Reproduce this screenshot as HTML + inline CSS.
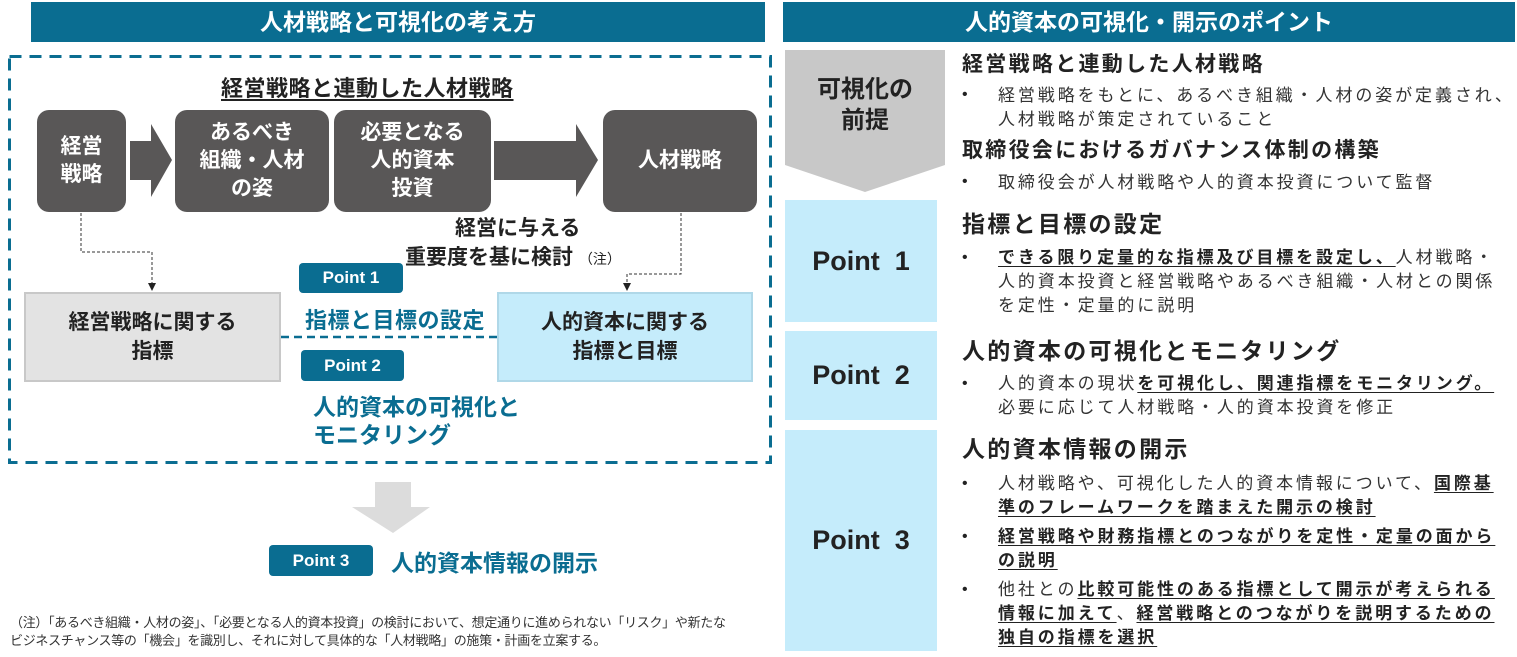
<!DOCTYPE html>
<html><head><meta charset="utf-8"><style>
*{margin:0;padding:0;box-sizing:border-box}
body{width:1517px;height:657px;background:#fff;position:relative;overflow:hidden;font-family:"Liberation Sans","Noto Sans CJK JP",sans-serif;color:#222}
.a{position:absolute;white-space:nowrap}
.hd{background:#0a6d91;color:#fff;font-weight:bold;font-size:23px;text-align:center;line-height:40px;height:40px;top:2px}
.dk{background:#595757;color:#fff;font-weight:bold;font-size:21px;border-radius:12px;display:flex;align-items:center;justify-content:center;text-align:center;line-height:28px;top:110px;height:102px}
.badge{background:#0a6d91;color:#fff;font-weight:bold;font-size:17px;border-radius:4px;text-align:center}
.teal{color:#0a6d91;font-weight:bold;font-size:22px}
.bx{display:flex;align-items:center;justify-content:center;text-align:center;font-weight:bold;font-size:21px;line-height:29px;border:2px solid #c8c8c8}
.pt{background:#c5ecfb;font-weight:bold;font-size:27px;display:flex;align-items:center;justify-content:center;left:785px;width:152px}
.h2{font-weight:bold;font-size:21px;letter-spacing:2.3px;left:962px}
.b{font-size:17px;letter-spacing:2.9px;left:998px;color:#333}
.dot{font-size:16px;left:962px}
u{text-decoration:underline;text-underline-offset:3px;font-weight:bold;color:#222}
</style></head><body>
<div class="a hd" style="left:31px;width:734px">人材戦略と可視化の考え方</div>
<div class="a hd" style="left:783px;width:732px">人的資本の可視化・開示のポイント</div>

<svg class="a" style="left:0;top:0" width="780" height="657">
<rect x="9.5" y="56.5" width="761" height="406" fill="none" stroke="#0a6d91" stroke-width="3" stroke-dasharray="12 8"/>
<polygon points="130,141 151,141 151,124 172,160 151,197 151,180 130,180" fill="#595757"/>
<polygon points="494,141 576,141 576,124 598,160 576,197 576,180 494,180" fill="#595757"/>
<polyline points="81,213 81,252 152,252 152,284" fill="none" stroke="#333" stroke-width="1" stroke-dasharray="3 2"/>
<polygon points="148,283 156,283 152,291" fill="#222"/>
<polyline points="681,213 681,274 627,274 627,284" fill="none" stroke="#333" stroke-width="1" stroke-dasharray="3 2"/>
<polygon points="623,283 631,283 627,291" fill="#222"/>
<line x1="281" y1="337" x2="497" y2="337" stroke="#0a6d91" stroke-width="2.5" stroke-dasharray="8 5"/>
<polygon points="375,482 411,482 411,507 430,507 393,533 352,507 375,507" fill="#dcdcdc"/>
</svg>

<div class="a" style="left:221px;top:71px;font-size:22px;font-weight:bold;text-decoration:underline;text-underline-offset:3px;letter-spacing:0.5px">経営戦略と連動した人材戦略</div>
<div class="a dk" style="left:37px;width:89px">経営<br>戦略</div>
<div class="a dk" style="left:175px;width:154px">あるべき<br>組織・人材<br>の姿</div>
<div class="a dk" style="left:334px;width:157px">必要となる<br>人的資本<br>投資</div>
<div class="a dk" style="left:603px;width:154px">人材戦略</div>
<div class="a" style="left:455px;top:212px;font-weight:bold;font-size:21px">経営に与える</div>
<div class="a" style="left:405px;top:241px;font-weight:bold;font-size:21px">重要度を基に検討 <span style="font-size:14px;font-weight:normal">（注）</span></div>
<div class="a badge" style="left:299px;top:263px;width:104px;height:30px;line-height:30px">Point 1</div>
<div class="a bx" style="left:24px;top:292px;width:257px;height:90px;background:#e3e3e3">経営戦略に関する<br>指標</div>
<div class="a bx" style="left:497px;top:292px;width:256px;height:90px;background:#c5ecfb;border-color:#b0d8e8">人的資本に関する<br>指標と目標</div>
<div class="a teal" style="left:305px;top:303px;letter-spacing:0.5px">指標と目標の設定</div>
<div class="a badge" style="left:301px;top:350px;width:103px;height:31px;line-height:31px">Point 2</div>
<div class="a teal" style="left:313px;top:393px;line-height:28px;font-size:23px">人的資本の可視化と<br>モニタリング</div>
<div class="a badge" style="left:269px;top:545px;width:104px;height:31px;line-height:31px">Point 3</div>
<div class="a teal" style="left:391px;top:544px;font-size:23px">人的資本情報の開示</div>
<div class="a" style="left:10px;top:614px;font-size:13px;line-height:18px;color:#333;letter-spacing:-0.3px">（注）「あるべき組織・人材の姿」、「必要となる人的資本投資」の検討において、想定通りに進められない「リスク」や新たな<br>ビジネスチャンス等の「機会」を識別し、それに対して具体的な「人材戦略」の施策・計画を立案する。</div>

<svg class="a" style="left:785px;top:50px" width="162" height="145"><polygon points="0,0 160,0 160,115 80,142 0,115" fill="#c8c8c8"/></svg>
<div class="a" style="left:785px;top:74px;width:160px;text-align:center;font-weight:bold;font-size:24px;line-height:31px">可視化の<br>前提</div>
<div class="a pt" style="top:200px;height:122px">Point&nbsp; 1</div>
<div class="a pt" style="top:331px;height:89px">Point&nbsp; 2</div>
<div class="a pt" style="top:430px;height:221px">Point&nbsp; 3</div>

<div class="a h2" style="top:48px">経営戦略と連動した人材戦略</div>
<div class="a dot" style="top:86px">•</div>
<div class="a b" style="top:81px">経営戦略をもとに、あるべき組織・人材の姿が定義され、</div>
<div class="a b" style="top:105px">人材戦略が策定されていること</div>
<div class="a h2" style="top:134px">取締役会におけるガバナンス体制の構築</div>
<div class="a dot" style="top:173px">•</div>
<div class="a b" style="top:168px">取締役会が人材戦略や人的資本投資について監督</div>
<div class="a h2" style="top:205px;font-size:23px">指標と目標の設定</div>
<div class="a dot" style="top:249px">•</div>
<div class="a b" style="top:243px"><u>できる限り定量的な指標及び目標を設定し、</u>人材戦略・</div>
<div class="a b" style="top:267px">人的資本投資と経営戦略やあるべき組織・人材との関係</div>
<div class="a b" style="top:291px">を定性・定量的に説明</div>
<div class="a h2" style="top:332px;font-size:23px">人的資本の可視化とモニタリング</div>
<div class="a dot" style="top:375px">•</div>
<div class="a b" style="top:369px">人的資本の現状<u>を可視化し、関連指標をモニタリング。</u></div>
<div class="a b" style="top:393px">必要に応じて人材戦略・人的資本投資を修正</div>
<div class="a h2" style="top:430px;font-size:23px">人的資本情報の開示</div>
<div class="a dot" style="top:475px">•</div>
<div class="a b" style="top:469px">人材戦略や、可視化した人的資本情報について、<u>国際基</u></div>
<div class="a b" style="top:493px"><u>準のフレームワークを踏まえた開示の検討</u></div>
<div class="a dot" style="top:528px">•</div>
<div class="a b" style="top:522px"><u>経営戦略や財務指標とのつながりを定性・定量の面から</u></div>
<div class="a b" style="top:546px"><u>の説明</u></div>
<div class="a dot" style="top:581px">•</div>
<div class="a b" style="top:575px">他社との<u>比較可能性のある指標として開示が考えられる</u></div>
<div class="a b" style="top:599px"><u>情報に加えて</u>、<u>経営戦略とのつながりを説明するための</u></div>
<div class="a b" style="top:623px"><u>独自の指標を選択</u></div>
</body></html>
